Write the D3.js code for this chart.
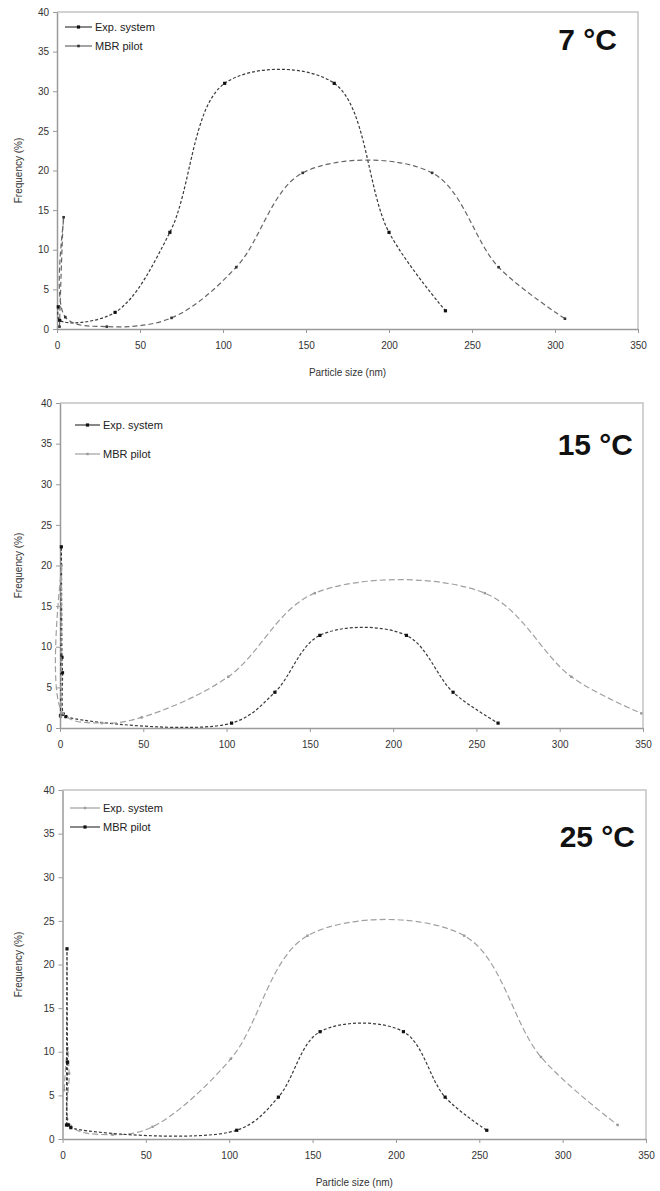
<!DOCTYPE html>
<html lang="en">
<head>
    <meta charset="UTF-8">
    <title>Particle size distribution</title>
    <script type="text/javascript" src="https://d3js.org/d3.v7.min.js"></script>
    <style>
        body { margin: 0; background: #fff; }
        text { font-family: Arial, "Liberation Sans", sans-serif; }
    </style>
</head>
<body>
    <svg width="660" height="1191"></svg>

    <script>
        // ticks shared by the three panels
        var xTicks = [0, 50, 100, 150, 200, 250, 300, 350];
        var yTicks = [0, 5, 10, 15, 20, 25, 30, 35, 40];
        var panelTitles = ["7 °C", "15 °C", "25 °C"];
        var legendNames = ["Exp. system", "MBR pilot"];

        // 7 C  [size nm, frequency %]
        var exp7 = [[0.8, 2.8], [1.6, 1.1], [35, 2.1], [68, 12.2], [101, 31], [167, 31], [200, 12.2], [234, 2.3]];
        var mbr7 = [[1.5, 0.3], [4, 14.1], [5, 1.5], [30, 0.3], [69, 1.4], [108, 7.8], [148, 19.7], [226, 19.7], [266, 7.8], [306, 1.3]];

        // 15 C
        var exp15 = [[0.3, 1.5], [0.8, 22.3], [1.2, 8.7], [1.5, 6.8], [2, 1.7], [3.5, 1.4], [103, 0.6], [129, 4.4], [156, 11.4], [208, 11.4], [236, 4.4], [263, 0.6]];
        var mbr15 = [[0.5, 1.4], [1, 20], [1.8, 1.8], [25, 0.6], [49, 1.3], [101, 6.3], [153, 16.6], [255, 16.6], [307, 6.3], [349, 1.8]];

        // 25 C
        var exp25 = [[1, 5.6], [3, 10.4], [4, 7.5], [5, 1.5], [30, 0.5], [54, 1.4], [101, 9.2], [147, 23.3], [241, 23.3], [287, 9.4], [333, 1.6]];
        var mbr25 = [[2.4, 1.6], [2.7, 21.8], [3, 8.8], [3.5, 1.6], [5, 1.3], [104.5, 1.0], [129.5, 4.8], [154.5, 12.3], [204.5, 12.3], [229.5, 4.8], [254.5, 1.0]];

        var svg = d3.select("svg");

        var dark = { stroke: "#3a3a3a", dash: "3,2", marker: "#111", r: 1.6 };
        var mid = { stroke: "#666", dash: "5,3", marker: "#333", r: 1.3 };
        var light = { stroke: "#a0a0a0", dash: "6,3", marker: "#999", r: 1.2 };

        var panels = [
            { box: [57, 638, 12, 329], series: [[exp7, dark], [mbr7, mid]], legendStyles: [dark, mid],
              legend: [65, 92, 27, 19], title: [617, 50], xTitle: true },
            { box: [60, 643, 403, 728], series: [[exp15, dark], [mbr15, light]], legendStyles: [dark, light],
              legend: [75, 100, 425, 29], title: [633, 455], xTitle: false },
            { box: [62.5, 646, 790, 1139], series: [[exp25, light], [mbr25, dark]], legendStyles: [light, dark],
              legend: [70, 100, 808, 19], title: [635, 847], xTitle: true }
        ];

        panels.forEach(function (p, i) {
            var left = p.box[0], right = p.box[1], top = p.box[2], bottom = p.box[3];

            var x = d3.scaleLinear().domain([0, 350]).range([left, right]);
            var y = d3.scaleLinear().domain([0, 40]).range([bottom, top]);

            var g = svg.append("g");

            // top and right border of the plot area
            g.append("path")
                .attr("d", "M" + left + "," + top + "H" + right + "V" + bottom)
                .attr("fill", "none")
                .attr("stroke", "#c4c4c4")
                .attr("stroke-width", 1.5);

            var xAxis = g.append("g")
                .attr("transform", "translate(0," + bottom + ")")
                .call(d3.axisBottom(x).tickValues(xTicks).tickSize(4).tickSizeOuter(0).tickPadding(9));
            var yAxis = g.append("g")
                .attr("transform", "translate(" + left + ",0)")
                .call(d3.axisLeft(y).tickValues(yTicks).tickSize(4).tickSizeOuter(0).tickPadding(4));

            [xAxis, yAxis].forEach(function (a) {
                a.select(".domain").attr("stroke", "#9a9a9a").attr("stroke-width", 1.5);
                a.selectAll(".tick line").attr("stroke", "#9a9a9a");
                a.selectAll(".tick text").attr("fill", "#333").style("font-size", "10px");
            });

            if (p.xTitle) {
                g.append("text")
                    .attr("x", (left + right) / 2)
                    .attr("y", bottom + 47)
                    .attr("text-anchor", "middle")
                    .attr("fill", "#333")
                    .style("font-size", "10px")
                    .text("Particle size (nm)");
            }

            g.append("text")
                .attr("transform", "translate(22," + (top + bottom) / 2 + ") rotate(-90)")
                .attr("text-anchor", "middle")
                .attr("fill", "#333")
                .style("font-size", "10px")
                .text("Frequency (%)");

            var line = d3.line()
                .x(function (d) { return x(d[0]); })
                .y(function (d) { return y(d[1]); })
                .curve(d3.curveCatmullRom.alpha(0.5));

            p.series.forEach(function (s) {
                var data = s[0], st = s[1];
                g.append("path")
                    .datum(data)
                    .attr("d", line)
                    .attr("fill", "none")
                    .attr("stroke", st.stroke)
                    .attr("stroke-width", 1.2)
                    .attr("stroke-dasharray", st.dash);

                g.selectAll(null)
                    .data(data)
                    .enter()
                    .append("rect")
                    .attr("x", function (d) { return x(d[0]) - st.r; })
                    .attr("y", function (d) { return y(d[1]) - st.r; })
                    .attr("width", st.r * 2)
                    .attr("height", st.r * 2)
                    .attr("fill", st.marker);
            });

            // legend
            var lx0 = p.legend[0], lx1 = p.legend[1], ly = p.legend[2], step = p.legend[3];
            legendNames.forEach(function (name, k) {
                var st = p.legendStyles[k];
                var yy = ly + k * step;
                g.append("line")
                    .attr("x1", lx0).attr("x2", lx1)
                    .attr("y1", yy).attr("y2", yy)
                    .attr("stroke", st.stroke)
                    .attr("stroke-width", 1.2);
                g.append("rect")
                    .attr("x", (lx0 + lx1) / 2 - st.r)
                    .attr("y", yy - st.r)
                    .attr("width", st.r * 2)
                    .attr("height", st.r * 2)
                    .attr("fill", st.marker);
                g.append("text")
                    .attr("x", lx1 + 3)
                    .attr("y", yy)
                    .attr("dy", "0.35em")
                    .attr("fill", "#222")
                    .style("font-size", "11px")
                    .text(name);
            });

            g.append("text")
                .attr("x", p.title[0])
                .attr("y", p.title[1])
                .attr("text-anchor", "end")
                .attr("font-weight", "bold")
                .attr("fill", "#111")
                .style("font-size", "30px")
                .text(panelTitles[i]);
        });
    </script>
</body>
</html>
